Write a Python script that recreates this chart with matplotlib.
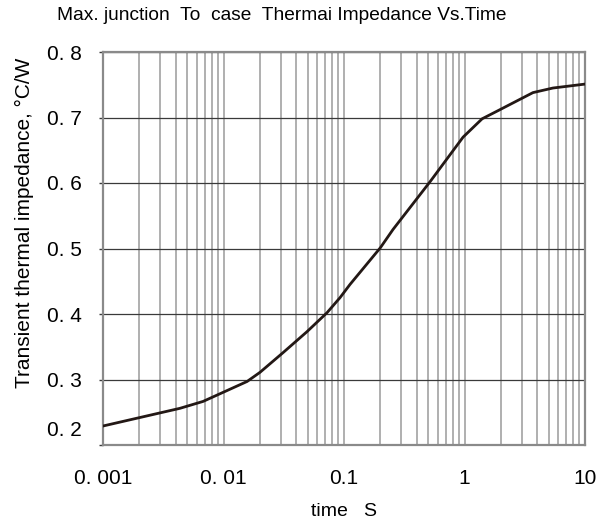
import matplotlib
matplotlib.use("Agg")
import matplotlib.pyplot as plt
import matplotlib.transforms as mtransforms
import numpy as np

plt.rcParams['font.family'] = ['Liberation Sans', 'DejaVu Sans']

# Data
time_s = [0.001, 0.00203, 0.00435, 0.00676, 0.0157, 0.0201, 0.0312, 0.0493,
          0.0723, 0.0927, 0.112, 0.2, 0.255, 0.518, 0.973, 1.40, 1.97, 3.70, 5.42, 10.0]
zth = [0.229, 0.242, 0.256, 0.2665, 0.297, 0.311, 0.341, 0.373,
       0.402, 0.425, 0.445, 0.501, 0.529, 0.602, 0.670, 0.698, 0.712, 0.738, 0.745, 0.751]

y_ticks = [0.2, 0.3, 0.4, 0.5, 0.6, 0.7, 0.8]
y_tick_labels = ["0. 2", "0. 3", "0. 4", "0. 5", "0. 6", "0. 7", "0. 8"]
x_ticks = [0.001, 0.01, 0.1, 1, 10]
x_tick_labels = ["0. 001", "0. 01", "0.1", "1", "10"]

title = "Max. junction  To  case  Thermai Impedance Vs.Time"
xlabel = "time   S"
ylabel = "Transient thermal impedance, \u00b0C/W"

fig = plt.figure(figsize=(6.0, 5.21), dpi=100)
ax = fig.add_axes([103/600, 1-445/521, (585-103)/600, (445-52)/521])

ax.set_xscale('log')
ax.set_xlim(0.001, 10)
ax.set_ylim(0.2, 0.8)

# grid
ax.xaxis.grid(True, which='both', color='#9a9a9a', linewidth=1.1)
ax.yaxis.grid(True, which='major', color='#3a3a3a', linewidth=0.9)
ax.set_axisbelow(True)

ax.plot(time_s, zth, color='#231815', linewidth=2.0, zorder=3)

ax.set_xticks(x_ticks)
ax.set_xticklabels(x_tick_labels, fontsize=15)
ax.set_yticks(y_ticks)
ax.set_yticklabels(y_tick_labels, fontsize=15)
ax.tick_params(axis='x', which='both', length=0, pad=17)
ax.tick_params(axis='y', which='major', length=3, width=1, color='#3a3a3a', pad=12, direction='out')

# shift the "0. 2" label up as in the reference
lab = ax.get_yticklabels()[0]
lab.set_transform(lab.get_transform() + mtransforms.ScaledTranslation(0, 17/100, fig.dpi_scale_trans))

for s in ax.spines.values():
    s.set_color('#8a8a8a')
    s.set_linewidth(1.6)

fig.text(344/600, 1-511/521, xlabel, ha='center', va='center', fontsize=14)
fig.text(24/600, 1-223/521, ylabel, rotation=90, ha='center', va='center', fontsize=15)
fig.text(282/600, 1-16/521, title, ha='center', va='center', fontsize=13.8)

fig.savefig('out.png', dpi=100)
